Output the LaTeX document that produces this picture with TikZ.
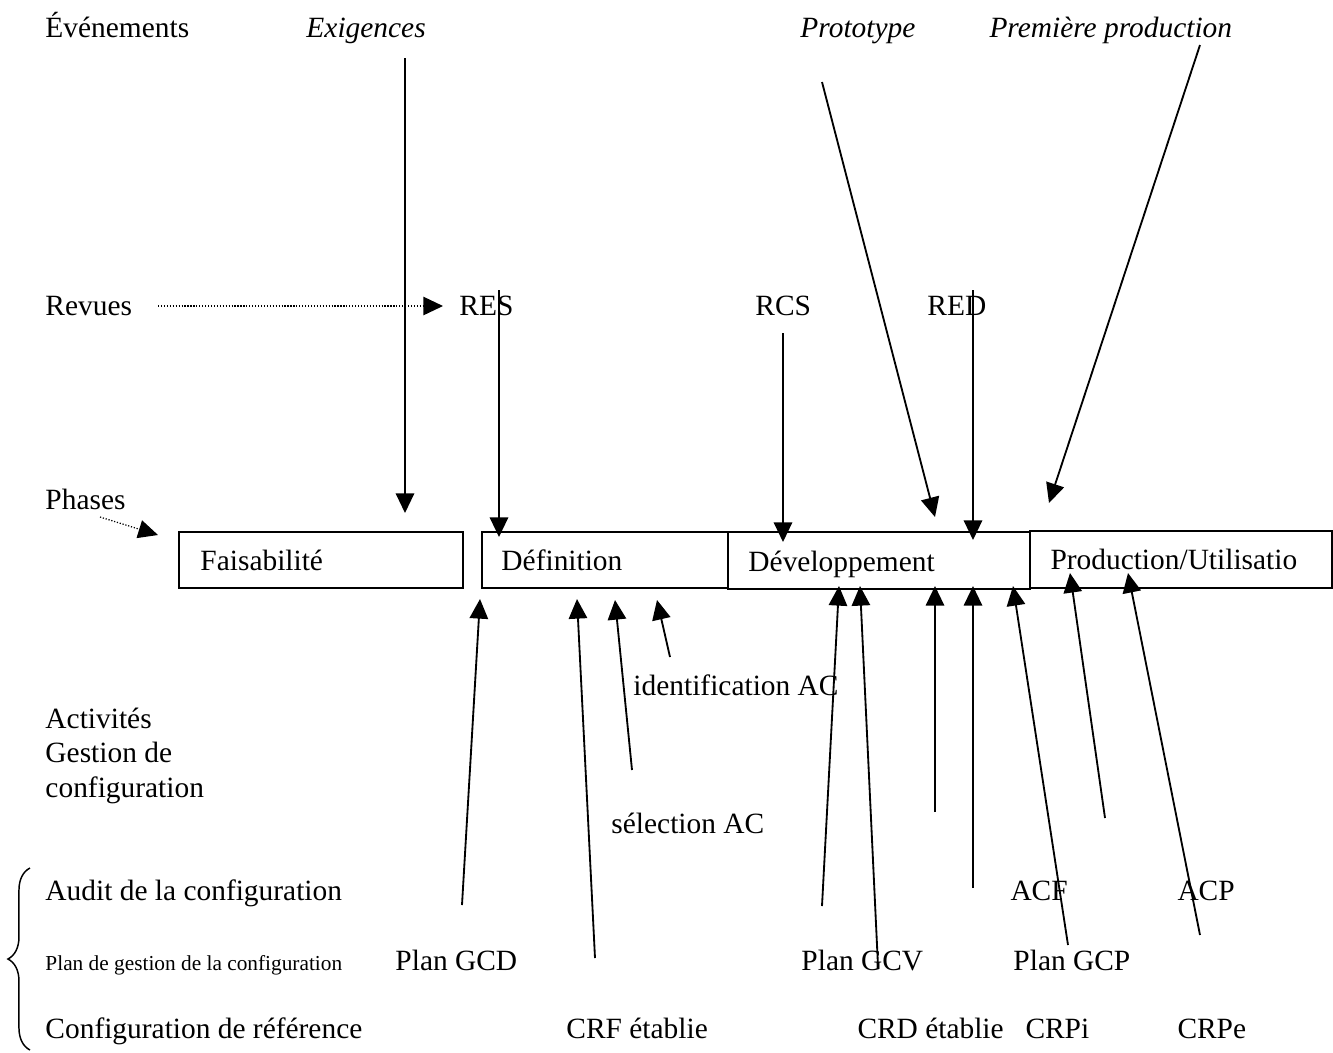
\documentclass[tikz,border=0pt]{standalone}
\usepackage{fontspec}
\setmainfont{Liberation Serif}
\usetikzlibrary{arrows.meta,decorations.pathreplacing}
\begin{document}
\begin{tikzpicture}[x=0.408pt,y=-0.408pt,
  txt/.style={inner sep=0pt,anchor=base west,font=\fontsize{12}{14}\selectfont},
  itxt/.style={inner sep=0pt,anchor=base west,font=\fontsize{12}{14}\selectfont\itshape},
  smalltxt/.style={inner sep=0pt,anchor=base west,font=\fontsize{8.7}{10}\selectfont},
  phasebox/.style={draw,line width=0.8pt,inner sep=0pt,anchor=north west},
  arr/.style={line width=0.75pt,-{Triangle[length=8pt,width=7.5pt]}},
  dotarr/.style={line width=0.5pt,dash pattern=on 0.5pt off 0.7pt,-{Triangle[length=8pt,width=7.5pt]}}]
\useasboundingbox (0,0) rectangle (1333,1052);

% phase boxes
\node[phasebox,minimum width=284*0.408pt,minimum height=56*0.408pt] (fais) at (178,531) {};
\node[phasebox,minimum width=246*0.408pt,minimum height=56*0.408pt] (def) at (481,531) {};
\node[phasebox,minimum width=302*0.408pt,minimum height=57*0.408pt] (dev) at (727,531) {};
\node[phasebox,minimum width=302*0.408pt,minimum height=57*0.408pt] (prod) at (1029,530) {};

\node[txt] (tfais) at (200,570) {Faisabilité};
\node[txt] (tdef) at (501,570) {Définition};
\node[txt] (tdev) at (748,571) {Développement};
\node[txt] (tprod) at (1050,569) {Production/Utilisatio};

% row labels
\node[txt] (evt) at (45,37) {Événements};
\node[itxt] (exig) at (306,37) {Exigences};
\node[itxt] (proto) at (800,37) {Prototype};
\node[itxt] (prem) at (989,37) {Première production};

\node[txt] (rev) at (45,315) {Revues};
\node[txt] (res) at (459,315) {RES};
\node[txt] (rcs) at (755,315) {RCS};
\node[txt] (red) at (927,315) {RED};

\node[txt] (phases) at (45,509) {Phases};

\node[txt] (ident) at (633,695) {identification AC};
\node[txt] (act1) at (45,728) {Activités};
\node[txt] (act2) at (45,762) {Gestion de};
\node[txt] (act3) at (45,797) {configuration};
\node[txt] (select) at (611,833) {sélection AC};

\node[txt] (audit) at (45,900) {Audit de la configuration};
\node[txt] (acf) at (1010,900) {ACF};
\node[txt] (acp) at (1177,900) {ACP};

\node[smalltxt] (plang) at (45,970) {Plan de gestion de la configuration};
\node[txt] (gcd) at (395,970) {Plan GCD};
\node[txt] (gcv) at (801,970) {Plan GCV};
\node[txt] (gcp) at (1013,970) {Plan GCP};

\node[txt] (confref) at (45,1038) {Configuration de référence};
\node[txt] (crf) at (566,1038) {CRF établie};
\node[txt] (crd) at (857,1038) {CRD établie};
\node[txt] (crpi) at (1025,1038) {CRPi};
\node[txt] (crpe) at (1177,1038) {CRPe};

% brace
\draw[decorate,decoration={brace,amplitude=9pt},line width=0.6pt] (30,1050) -- (30,868);

% coordinates for arrow ends
\coordinate (revS) at (158,306);  \coordinate (revE) at (443,306);
\coordinate (phS) at (100,517);   \coordinate (phE) at (158,535);

\coordinate (exS) at (405,58);    \coordinate (exE) at (405,513);
\coordinate (resS) at (499,290);  \coordinate (resE) at (499,537);
\coordinate (rcsS) at (783,333);  \coordinate (rcsE) at (783,542);
\coordinate (redS) at (973,290);  \coordinate (redE) at (973,540);
\coordinate (prS) at (822,82);    \coordinate (prE) at (935,517);
\coordinate (ppS) at (1200,45);   \coordinate (ppE) at (1049,503);

\coordinate (u1S) at (462,905);   \coordinate (u1E) at (480,599);
\coordinate (u2S) at (595,958);   \coordinate (u2E) at (577,599);
\coordinate (u3S) at (632,770);   \coordinate (u3E) at (615,600);
\coordinate (u4S) at (670,657);   \coordinate (u4E) at (657,600);
\coordinate (u5S) at (822,906);   \coordinate (u5E) at (839,586);
\coordinate (u6S) at (878,966);   \coordinate (u6E) at (860,586);
\coordinate (u7S) at (935,812);   \coordinate (u7E) at (935,586);
\coordinate (u8S) at (973,888);   \coordinate (u8E) at (973,586);
\coordinate (u9S) at (1068,945);  \coordinate (u9E) at (1013,586);
\coordinate (u10S) at (1105,818); \coordinate (u10E) at (1070,573);
\coordinate (u11S) at (1200,935); \coordinate (u11E) at (1128,573);

% dotted arrows
\draw[dotarr] (revS) -- (revE);
\draw[dotarr] (phS) -- (phE);

% downward arrows
\foreach \a in {ex,res,rcs,red,pr,pp}
  \draw[arr] (\a S) -- (\a E);

% upward arrows
\foreach \a in {u1,u2,u3,u4,u5,u6,u7,u8,u9,u10,u11}
  \draw[arr] (\a S) -- (\a E);
\end{tikzpicture}
\end{document}
